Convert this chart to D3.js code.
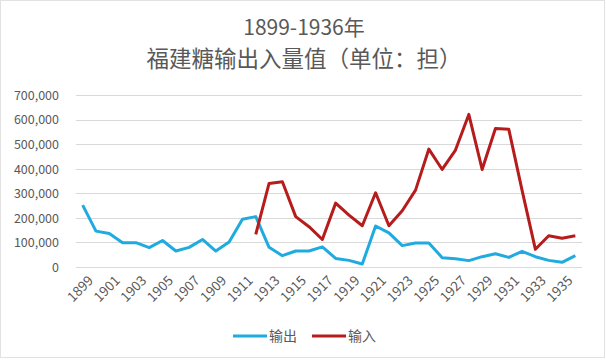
<!DOCTYPE html>
<head>
    <meta charset="utf-8" />
    <title>福建糖输出入量值</title>
</head>
<style>
    body {
        margin: 0;
        background: #fff;
    }

    text {
        font-family: "Noto Sans CJK SC", "Open Sans", sans-serif;
        fill: #595959;
    }

    .grid line {
        stroke: #d9d9d9;
        stroke-width: 1px;
        shape-rendering: crispEdges;
    }

    .axis path,
    .axis line {
        display: none;
    }
</style>
<body>
    <svg id="chart" width="606" height="363"></svg>
    <script src="https://d3js.org/d3.v7.min.js"></script>
    <script>
        // data
        var years = d3.range(1899, 1937);
        var exportVals = [252000, 146000, 136000, 99000, 99000, 79000, 108000, 65000, 80000, 112000,
            65000, 102000, 194000, 205000, 80000, 46000, 65000, 65000, 82000, 35000,
            27000, 12000, 167000, 139000, 87000, 98000, 98000, 38000, 34000, 26000,
            42000, 54000, 39000, 64000, 42000, 27000, 19000, 46000];
        // import starts in 1912
        var importVals = [null, null, null, null, null, null, null, null, null, null,
            null, null, null, 133000, 340000, 347000, 205000, 164000, 112000, 260000,
            211000, 168000, 302000, 168000, 229000, 313000, 480000, 397000, 476000, 621000,
            397000, 564000, 561000, 312000, 72000, 127000, 117000, 127000];
        var yTicks = [0, 100000, 200000, 300000, 400000, 500000, 600000, 700000];
        var titleLines = ["1899-1936年", "福建糖输出入量值（单位：担）"];
        var seriesNames = ["输出", "输入"];
        var colors = ["#1fabdf", "#b71c1c"];

        var margin = { top: 95, right: 24, bottom: 96, left: 76 };
        var width = 606 - margin.left - margin.right,
            height = 363 - margin.top - margin.bottom;

        var svg = d3.select("#chart");

        // outer border like the spreadsheet chart area
        svg.append("rect")
            .attr("x", 0.5).attr("y", 0.5)
            .attr("width", 604).attr("height", 357)
            .attr("fill", "none")
            .attr("stroke", "#e2e2e2");

        var g = svg.append("g")
            .attr("transform", "translate(" + margin.left + "," + margin.top + ")");

        var x = d3.scaleBand().domain(years).range([0, width]);
        var y = d3.scaleLinear().domain([0, 700000]).range([height, 0]);

        // grid
        g.append("g")
            .attr("class", "grid")
            .selectAll("line")
            .data(yTicks)
            .enter().append("line")
            .attr("x1", 0)
            .attr("x2", width)
            .attr("y1", function(d) { return Math.round(y(d)) + 0.5; })
            .attr("y2", function(d) { return Math.round(y(d)) + 0.5; });

        // y axis
        var yAxis = g.append("g")
            .attr("class", "axis")
            .attr("transform", "translate(-14,0)")
            .call(d3.axisLeft(y).tickValues(yTicks).tickSize(0).tickFormat(d3.format(",")));
        yAxis.selectAll("text")
            .attr("font-size", "12.5px")
            .attr("dy", "0.35em")
            .style("font-family", "'Noto Sans CJK SC'")
            .attr("fill", "#595959");

        // x axis, every other year, rotated
        var xAxis = g.append("g")
            .attr("class", "axis")
            .attr("transform", "translate(0," + height + ")")
            .call(d3.axisBottom(x)
                .tickValues(years.filter(function(d, i) { return i % 2 === 0; }))
                .tickSize(0));
        xAxis.selectAll("text")
            .attr("font-size", "13.5px")
            .attr("fill", "#595959")
            .attr("text-anchor", "end")
            .attr("dy", "0.35em")
            .attr("transform", "translate(6,9) rotate(-45)");

        var line = d3.line()
            .defined(function(d) { return d != null; })
            .x(function(d, i) { return x(years[i]) + x.bandwidth() / 2; })
            .y(function(d) { return y(d); });

        [exportVals, importVals].forEach(function(vals, k) {
            g.append("path")
                .datum(vals)
                .attr("fill", "none")
                .attr("stroke", colors[k])
                .attr("stroke-width", 3)
                .attr("stroke-linejoin", "round")
                .attr("d", line);
        });

        // title
        svg.selectAll(".title")
            .data(titleLines)
            .enter().append("text")
            .attr("class", "title")
            .attr("x", 304)
            .attr("y", function(d, i) { return 35 + i * 32; })
            .attr("text-anchor", "middle")
            .attr("font-size", function(d, i) { return i === 0 ? "21px" : "22.5px"; })
            .text(function(d) { return d; });

        // legend
        var legend = svg.selectAll(".legend")
            .data(seriesNames)
            .enter().append("g")
            .attr("class", "legend")
            .attr("transform", function(d, i) { return "translate(233," + 336 + ") translate(" + (i * 79) + ",0)"; });

        legend.append("line")
            .attr("x1", 0).attr("x2", 34)
            .attr("y1", 0).attr("y2", 0)
            .attr("stroke", function(d, i) { return colors[i]; })
            .attr("stroke-width", 3);

        legend.append("text")
            .attr("x", 36)
            .attr("dy", "0.35em")
            .attr("font-size", "14px")
            .text(function(d) { return d; });
    </script>
</body>
